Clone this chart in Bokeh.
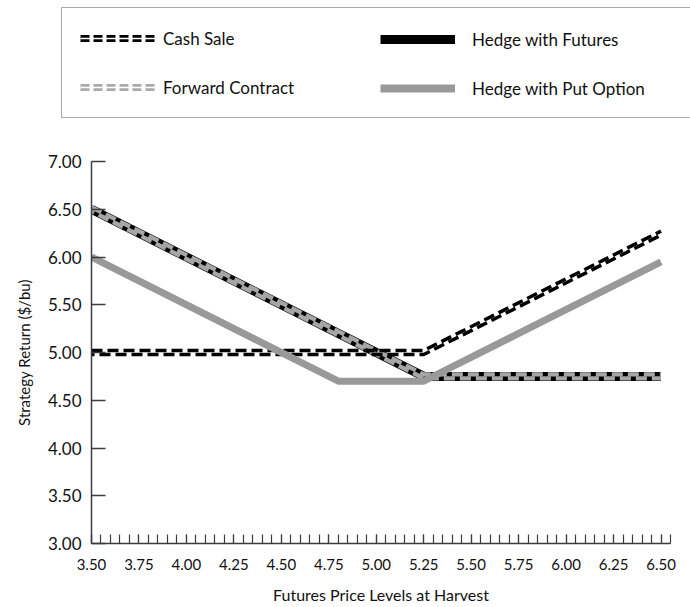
import numpy as np
from bokeh.plotting import figure
from bokeh.layouts import column, row
from bokeh.models import (Range1d, FixedTicker, NumeralTickFormatter, Legend, LegendItem)
from bokeh.embed import file_html
from bokeh.resources import INLINE

# ---- data ----
x_ticks = [3.50, 3.75, 4.00, 4.25, 4.50, 4.75, 5.00, 5.25, 5.50, 5.75, 6.00, 6.25, 6.50]
y_ticks = [3.00, 3.50, 4.00, 4.50, 5.00, 5.50, 6.00, 6.50, 7.00]

cash_x = [3.50, 5.25, 6.50]
cash_y = [5.00, 5.00, 6.25]

futures_x = [3.50, 5.25, 6.50]
futures_y = [6.50, 4.75, 4.75]

forward_x = [3.50, 5.25, 6.50]
forward_y = [6.50, 4.75, 4.75]

put_x = [3.50, 4.80, 5.25, 6.50]
put_y = [6.00, 4.70, 4.70, 5.95]

names = ["Cash Sale", "Hedge with Futures", "Forward Contract", "Hedge with Put Option"]

# ---- styling constants ----
FONT = "Lato"
GRAY = "#999999"
DASH_GRAY = "#a6a6a6"
AXIS_COLOR = "#3c3c3c"
TEXT = "#111111"
OFF = 0.021          # half-gap of the doubled dashed strokes, in data units (~2px)

x_minor = list(np.round(np.arange(3.50, 6.5501, 0.05), 2))

# ================= legend strip =================
LEG_H = 140
lf = figure(width=690, height=LEG_H, output_backend="svg", toolbar_location=None,
            x_range=Range1d(0, 1), y_range=Range1d(0, 1),
            x_axis_location=None, y_axis_location=None,
            min_border=0, min_border_left=0, min_border_right=0,
            min_border_top=0, min_border_bottom=0)
lf.outline_line_color = None
lf.xgrid.visible = False
lf.ygrid.visible = False

# legend swatches: single-point lines (draw nothing, only shown in the legend)
sw_cash = lf.line(cash_x[:1], cash_y[:1], line_color="black", line_width=7, line_dash="9 4")
sw_cash_mid = lf.line(cash_x[:1], cash_y[:1], line_color="white", line_width=1.3)
sw_fut = lf.line(futures_x[:1], futures_y[:1], line_color="black", line_width=9)
sw_fwd = lf.line(forward_x[:1], forward_y[:1], line_color="#aaaaaa", line_width=7, line_dash="9 4")
sw_fwd_mid = lf.line(forward_x[:1], forward_y[:1], line_color="white", line_width=1.3)
sw_put = lf.line(put_x[:1], put_y[:1], line_color=GRAY, line_width=8)

PAD = 18
ITEM_H = 24
SPACING = 25
LEGEND_TOP = 9
rows_h = 2 * ITEM_H + SPACING
leg_height = 2 * PAD + rows_h

common = dict(orientation="vertical", glyph_width=75, glyph_height=ITEM_H,
              label_height=ITEM_H, spacing=SPACING, margin=0,
              label_text_font=FONT, label_text_font_size="17px",
              label_text_color=TEXT)

# left column + the outer box
legend_left = Legend(
    items=[LegendItem(label=names[0], renderers=[sw_cash, sw_cash_mid]),
           LegendItem(label=names[2], renderers=[sw_fwd, sw_fwd_mid])],
    location=(61, LEG_H - LEGEND_TOP - leg_height), padding=PAD,
    label_standoff=8, label_width=509,
    border_line_color="#555555", border_line_width=1.5,
    background_fill_color="white", background_fill_alpha=1.0, **common)
lf.add_layout(legend_left)

# right column (no box of its own, no padding)
legend_right = Legend(
    items=[LegendItem(label=names[1], renderers=[sw_fut]),
           LegendItem(label=names[3], renderers=[sw_put])],
    location=(380, LEG_H - (LEGEND_TOP + PAD) - rows_h), padding=0,
    label_standoff=17, label_width=150,
    border_line_color=None, background_fill_alpha=0.0, **common)
lf.add_layout(legend_right)

# ================= chart =================
CH_H = 607 - LEG_H
p = figure(width=690, height=CH_H, output_backend="svg", toolbar_location=None,
           x_range=Range1d(3.5, 6.55), y_range=Range1d(3.0, 7.0),
           min_border_left=91, min_border_top=161 - LEG_H, min_border_right=20,
           min_border_bottom=64)
p.outline_line_color = None
p.xgrid.visible = False
p.ygrid.visible = False

# x axis
xa = p.xaxis[0]
xa.ticker = FixedTicker(ticks=x_ticks, minor_ticks=x_minor)
xa.formatter = NumeralTickFormatter(format="0.00")
xa.major_tick_in = 9
xa.major_tick_out = 0
xa.minor_tick_in = 9
xa.minor_tick_out = 0
xa.axis_line_color = AXIS_COLOR
xa.axis_line_width = 1.5
xa.major_tick_line_color = AXIS_COLOR
xa.minor_tick_line_color = AXIS_COLOR
xa.major_tick_line_width = 1.2
xa.minor_tick_line_width = 1.2
xa.major_label_text_font = FONT
xa.major_label_text_font_size = "15px"
xa.major_label_text_color = TEXT
xa.major_label_standoff = 15
xa.axis_label = "Futures Price Levels at Harvest"
xa.axis_label_text_font = FONT
xa.axis_label_text_font_size = "16px"
xa.axis_label_text_font_style = "normal"
xa.axis_label_text_color = TEXT
xa.axis_label_standoff = 12

# y axis
ya = p.yaxis[0]
ya.ticker = FixedTicker(ticks=y_ticks, minor_ticks=[])
ya.formatter = NumeralTickFormatter(format="0.00")
ya.major_tick_in = 14
ya.major_tick_out = 0
ya.minor_tick_line_color = None
ya.axis_line_color = AXIS_COLOR
ya.axis_line_width = 1.5
ya.major_tick_line_color = AXIS_COLOR
ya.major_tick_line_width = 1.5
ya.major_label_text_font = FONT
ya.major_label_text_font_size = "17px"
ya.major_label_text_color = TEXT
ya.major_label_standoff = 10
ya.axis_label = "Strategy Return ($/bu)"
ya.axis_label_text_font = FONT
ya.axis_label_text_font_size = "15px"
ya.axis_label_text_font_style = "normal"
ya.axis_label_text_color = TEXT
ya.axis_label_standoff = 12

# ---- series ----
p.line(futures_x, futures_y, line_color="black", line_width=9)
p.line(forward_x, np.array(forward_y) + OFF, line_color=DASH_GRAY,
       line_width=4.3, line_dash="11 5")
p.line(forward_x, np.array(forward_y) - OFF, line_color=DASH_GRAY,
       line_width=4.3, line_dash="11 5", line_dash_offset=8)
p.line(cash_x, np.array(cash_y) + OFF, line_color="black",
       line_width=3.5, line_dash="11 5")
p.line(cash_x, np.array(cash_y) - OFF, line_color="black",
       line_width=3.5, line_dash="11 5", line_dash_offset=8)
p.line(put_x, put_y, line_color=GRAY, line_width=7)

layout = column(row(lf), row(p), spacing=0)
open("out.html", "w").write(file_html(layout, INLINE))
